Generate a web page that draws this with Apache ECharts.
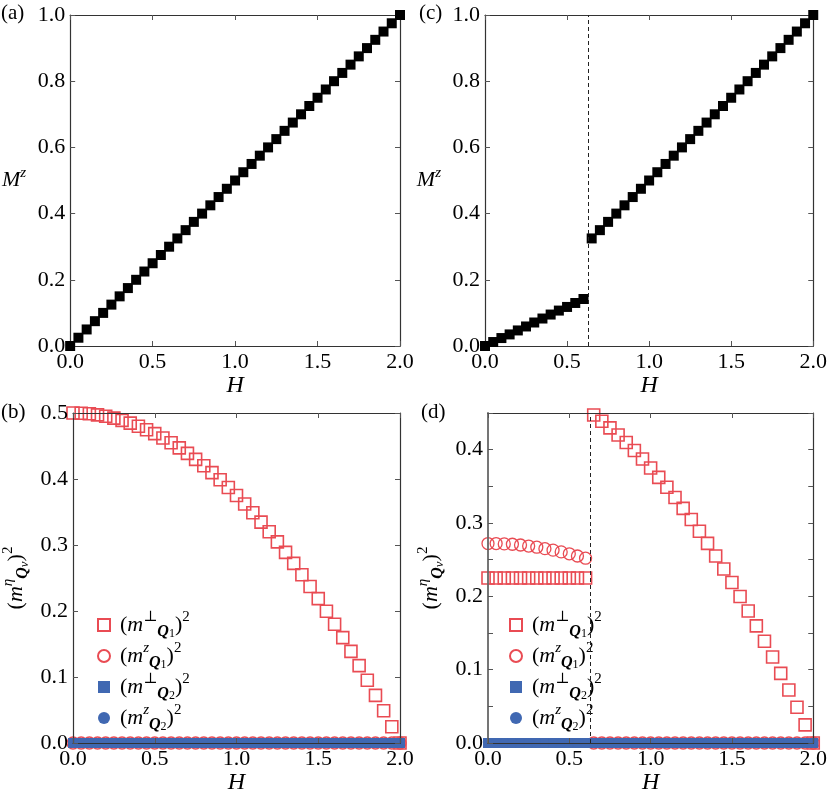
<!DOCTYPE html>
<html>
<head>
<meta charset="utf-8">
<script src="https://cdn.jsdelivr.net/npm/echarts@6/dist/echarts.min.js"></script>
<style>
  html, body { margin: 0; padding: 0; background: #fff; }
  #chart { width: 830px; height: 802px; }
</style>
</head>
<body>
<div id="chart"></div>
<script>
// field values H
var H = [0, 0.05, 0.1, 0.15, 0.2, 0.25, 0.3, 0.35, 0.4, 0.45, 0.5, 0.55, 0.6, 0.65, 0.7, 0.75, 0.8, 0.85, 0.9, 0.95,
         1.0, 1.05, 1.1, 1.15, 1.2, 1.25, 1.3, 1.35, 1.4, 1.45, 1.5, 1.55, 1.6, 1.65, 1.7, 1.75, 1.8, 1.85, 1.9, 1.95, 2.0];

// (a) magnetisation
var mzA = [0, 0.025, 0.05, 0.075, 0.1, 0.125, 0.15, 0.175, 0.2, 0.225, 0.25, 0.275, 0.3, 0.325, 0.35, 0.375, 0.4, 0.425, 0.45, 0.475,
           0.5, 0.525, 0.55, 0.575, 0.6, 0.625, 0.65, 0.675, 0.7, 0.725, 0.75, 0.775, 0.8, 0.825, 0.85, 0.875, 0.9, 0.925, 0.95, 0.975, 1.0];

// (c) magnetisation, jump at Hc
var mzC = [0, 0.012, 0.024, 0.035, 0.047, 0.059, 0.071, 0.083, 0.095, 0.107, 0.118, 0.130, 0.142, 0.325, 0.35, 0.375, 0.4, 0.425, 0.45, 0.475,
           0.5, 0.525, 0.55, 0.575, 0.6, 0.625, 0.65, 0.675, 0.7, 0.725, 0.75, 0.775, 0.8, 0.825, 0.85, 0.875, 0.9, 0.925, 0.95, 0.975, 1.0];

// (b) order parameters
var perp1B = [0.5, 0.4997, 0.4988, 0.4972, 0.495, 0.4922, 0.4888, 0.4847, 0.48, 0.4747, 0.4688, 0.4622, 0.455, 0.4472, 0.4388, 0.4297, 0.42, 0.4097, 0.3988, 0.3872,
              0.375, 0.3622, 0.3488, 0.3347, 0.32, 0.3047, 0.2888, 0.2722, 0.255, 0.2372, 0.2188, 0.1997, 0.18, 0.1597, 0.1388, 0.1172, 0.095, 0.0722, 0.0488, 0.0247, 0];
var z1B = [0, 0, 0, 0, 0, 0, 0, 0, 0, 0, 0, 0, 0, 0, 0, 0, 0, 0, 0, 0, 0, 0, 0, 0, 0, 0, 0, 0, 0, 0, 0, 0, 0, 0, 0, 0, 0, 0, 0, 0, 0];
var perp2B = [0, 0, 0, 0, 0, 0, 0, 0, 0, 0, 0, 0, 0, 0, 0, 0, 0, 0, 0, 0, 0, 0, 0, 0, 0, 0, 0, 0, 0, 0, 0, 0, 0, 0, 0, 0, 0, 0, 0, 0, 0];
var z2B = [0, 0, 0, 0, 0, 0, 0, 0, 0, 0, 0, 0, 0, 0, 0, 0, 0, 0, 0, 0, 0, 0, 0, 0, 0, 0, 0, 0, 0, 0, 0, 0, 0, 0, 0, 0, 0, 0, 0, 0, 0];

// (d) order parameters
var perp1D = [0.225, 0.225, 0.225, 0.225, 0.225, 0.225, 0.225, 0.225, 0.225, 0.225, 0.225, 0.225, 0.225, 0.4472, 0.4388, 0.4297, 0.42, 0.4097, 0.3988, 0.3872,
              0.375, 0.3622, 0.3488, 0.3347, 0.32, 0.3047, 0.2888, 0.2722, 0.255, 0.2372, 0.2188, 0.1997, 0.18, 0.1597, 0.1388, 0.1172, 0.095, 0.0722, 0.0488, 0.0247, 0];
var z1D = [0.272, 0.272, 0.2715, 0.271, 0.270, 0.2686, 0.267, 0.265, 0.263, 0.2606, 0.258, 0.255, 0.252, 0, 0, 0, 0, 0, 0, 0,
           0, 0, 0, 0, 0, 0, 0, 0, 0, 0, 0, 0, 0, 0, 0, 0, 0, 0, 0, 0, 0];
var perp2D = [0, 0, 0, 0, 0, 0, 0, 0, 0, 0, 0, 0, 0, 0, 0, 0, 0, 0, 0, 0, 0, 0, 0, 0, 0, 0, 0, 0, 0, 0, 0, 0, 0, 0, 0, 0, 0, 0, 0, 0, 0];
var z2D = [0, 0, 0, 0, 0, 0, 0, 0, 0, 0, 0, 0, 0, 0, 0, 0, 0, 0, 0, 0, 0, 0, 0, 0, 0, 0, 0, 0, 0, 0, 0, 0, 0, 0, 0, 0, 0, 0, 0, 0, 0];

var Hc = 0.63;

var names = ['(m⊥Q1)²', '(mzQ1)²', '(m⊥Q2)²', '(mzQ2)²'];
var panelTags = ['(a)', '(c)', '(b)', '(d)'];

var FONT = '"Liberation Serif", "Times New Roman", Times, "DejaVu Serif", serif';
var RED = '#e94b53';
var BLUE = '#4068b2';

var myChart = echarts.init(document.getElementById('chart'));

function pairs(ys) {
	return H.map(function (h, i) { return [h, ys[i]]; });
}

var rich = {
	p0: { fontFamily: FONT, fontSize: 22, lineHeight: 30, color: '#000', padding: [0, 0, 0, 5] },
	p: { fontFamily: FONT, fontSize: 22, lineHeight: 30, color: '#000' },
	i: { fontFamily: FONT, fontSize: 22, lineHeight: 30, fontStyle: 'italic', color: '#000' },
	sup: { fontFamily: FONT, fontSize: 15, lineHeight: 14, verticalAlign: 'top', color: '#000' },
	supi: { fontFamily: FONT, fontSize: 15, lineHeight: 14, verticalAlign: 'top', fontStyle: 'italic', color: '#000' },
	subq: { fontFamily: FONT, fontSize: 16, lineHeight: 14, verticalAlign: 'bottom', fontStyle: 'italic', fontWeight: 'bold', color: '#000' },
	subn: { fontFamily: FONT, fontSize: 12, lineHeight: 11, verticalAlign: 'bottom', color: '#000' },
	subi: { fontFamily: FONT, fontSize: 13, lineHeight: 12, verticalAlign: 'bottom', fontStyle: 'italic', color: '#000' }
};

var legendText = {};
legendText[names[0]] = '{p0|(}{i|m}{sup|⊥}{subq|Q}{subn|1}{p|)}{sup|2}';
legendText[names[1]] = '{p0|(}{i|m}{supi|z}{subq|Q}{subn|1}{p|)}{sup|2}';
legendText[names[2]] = '{p0|(}{i|m}{sup|⊥}{subq|Q}{subn|2}{p|)}{sup|2}';
legendText[names[3]] = '{p0|(}{i|m}{supi|z}{subq|Q}{subn|2}{p|)}{sup|2}';

var grids = [
	{ left: 69, top: 15, width: 331, height: 331 },
	{ left: 485, top: 15, width: 334, height: 331 },
	{ left: 69, top: 413, width: 331, height: 330 },
	{ left: 488, top: 413, width: 331, height: 330 }
];
var yMax = [1, 1, 0.5, 0.45];
var yStep = [0.2, 0.2, 0.1, 0.1];
var frameOnTop = [false, false, true, true];

var xAxes = [], yAxes = [];
for (var g = 0; g < 4; g++) {
	xAxes.push({
		type: 'value', gridIndex: g, min: 0, max: 2, interval: 0.5, position: 'bottom', z: frameOnTop[g] ? 10 : 0,
		name: 'H', nameLocation: 'middle', nameGap: g < 2 ? 27 : 28,
		nameTextStyle: { fontFamily: FONT, fontSize: 24, fontStyle: 'italic', color: '#000' },
		axisLine: { onZero: false, lineStyle: { color: '#333', width: 1.2 } },
		axisTick: { inside: true, length: 5, lineStyle: { color: '#555' } },
		axisLabel: { fontFamily: FONT, fontSize: 22, color: '#000', margin: 5, formatter: function (v) { return v.toFixed(1); } },
		splitLine: { show: false }
	});
	yAxes.push({
		type: 'value', gridIndex: g, min: 0, max: yMax[g], interval: yStep[g], position: 'left', z: frameOnTop[g] ? 10 : 0,
		name: g < 2 ? '{i|M}{supi|z}' : '{p|(}{i|m}{supi|η}{subq|Q}{subi|ν}{p|)}{sup|2}',
		nameLocation: 'middle', nameRotate: g < 2 ? 0 : 90, nameGap: g < 2 ? 44 : 42,
		nameTextStyle: { rich: rich },
		axisLine: { onZero: false, lineStyle: { color: g === 3 ? '#666' : '#333', width: g === 3 ? 1.8 : 1.2 } },
		axisTick: { inside: true, length: 5, lineStyle: { color: '#555' } },
		minorTick: { show: g === 3, splitNumber: 2, length: 5, lineStyle: { color: '#555' } },
		axisLabel: { fontFamily: FONT, fontSize: 22, color: '#000', margin: 5, showMaxLabel: g !== 3, formatter: function (v) { return v.toFixed(1); } },
		splitLine: { show: false }
	});
}
for (var g2 = 0; g2 < 4; g2++) {
	xAxes.push({
		type: 'value', gridIndex: g2, min: 0, max: 2, interval: 0.5, position: 'top', z: frameOnTop[g2] ? 10 : 0,
		axisLine: { onZero: false, lineStyle: { color: '#333', width: 1.2 } },
		axisTick: { inside: true, length: 5, lineStyle: { color: '#555' } },
		axisLabel: { show: false }, splitLine: { show: false }
	});
	yAxes.push({
		type: 'value', gridIndex: g2, min: 0, max: yMax[g2], interval: yStep[g2], position: 'right', z: frameOnTop[g2] ? 10 : 0,
		axisLine: { onZero: false, lineStyle: { color: '#333', width: 1.2 } },
		axisTick: { inside: true, length: 5, lineStyle: { color: '#555' } },
		minorTick: { show: g2 === 3, splitNumber: 2, length: 5, lineStyle: { color: '#555' } },
		axisLabel: { show: false }, splitLine: { show: false }
	});
}

var transitionLine = {
	silent: true, symbol: ['none', 'none'], label: { show: false },
	lineStyle: { type: [4, 3], color: '#222', width: 1 },
	data: [{ xAxis: Hc }]
};

function orderSeries(g, p1, z1, p2, z2, withLine) {
	var s = [
		{ name: names[0], type: 'scatter', xAxisIndex: g, yAxisIndex: g, clip: false, symbol: 'rect', symbolSize: 12,
		  itemStyle: { color: 'rgba(255,255,255,0)', borderColor: RED, borderWidth: 1.6, opacity: 1 }, data: pairs(p1) },
		{ name: names[1], type: 'scatter', xAxisIndex: g, yAxisIndex: g, clip: false, symbol: 'circle', symbolSize: 12,
		  itemStyle: { color: 'rgba(255,255,255,0)', borderColor: RED, borderWidth: 1.3, opacity: 1 }, data: pairs(z1) },
		{ name: names[2], type: 'scatter', xAxisIndex: g, yAxisIndex: g, clip: false, symbol: 'rect', symbolSize: 10,
		  itemStyle: { color: BLUE, opacity: 1 }, data: pairs(p2) },
		{ name: names[3], type: 'scatter', xAxisIndex: g, yAxisIndex: g, clip: false, symbol: 'circle', symbolSize: 10,
		  itemStyle: { color: BLUE, opacity: 1 }, data: pairs(z2) }
	];
	if (withLine) s[0].markLine = transitionLine;
	return s;
}

var series = [
	{ type: 'scatter', xAxisIndex: 0, yAxisIndex: 0, clip: false, symbol: 'rect', symbolSize: 10, itemStyle: { color: '#000', opacity: 1 }, data: pairs(mzA) },
	{ type: 'scatter', xAxisIndex: 1, yAxisIndex: 1, clip: false, symbol: 'rect', symbolSize: 10, itemStyle: { color: '#000', opacity: 1 }, data: pairs(mzC),
	  markLine: transitionLine }
].concat(orderSeries(2, perp1B, z1B, perp2B, z2B, false))
 .concat(orderSeries(3, perp1D, z1D, perp2D, z2D, true));

function legendAt(left) {
	return {
		data: names, orient: 'vertical', left: left, top: 605,
		itemWidth: 12, itemHeight: 12, itemGap: 1,
		selectedMode: false,
		formatter: function (n) { return legendText[n]; },
		textStyle: { rich: rich }
	};
}

var option = {
	animation: false,
	backgroundColor: '#fff',
	grid: grids,
	xAxis: xAxes,
	yAxis: yAxes,
	legend: [legendAt(92), legendAt(504)],
	graphic: [
		{ type: 'text', left: 1, top: 3, style: { text: panelTags[0], fontFamily: FONT, fontSize: 21, fill: '#000' } },
		{ type: 'text', left: 419, top: 3, style: { text: panelTags[1], fontFamily: FONT, fontSize: 21, fill: '#000' } },
		{ type: 'text', left: 1, top: 402, style: { text: panelTags[2], fontFamily: FONT, fontSize: 21, fill: '#000' } },
		{ type: 'text', left: 421, top: 402, style: { text: panelTags[3], fontFamily: FONT, fontSize: 21, fill: '#000' } }
	],
	series: series
};

myChart.setOption(option);
</script>
</body>
</html>
